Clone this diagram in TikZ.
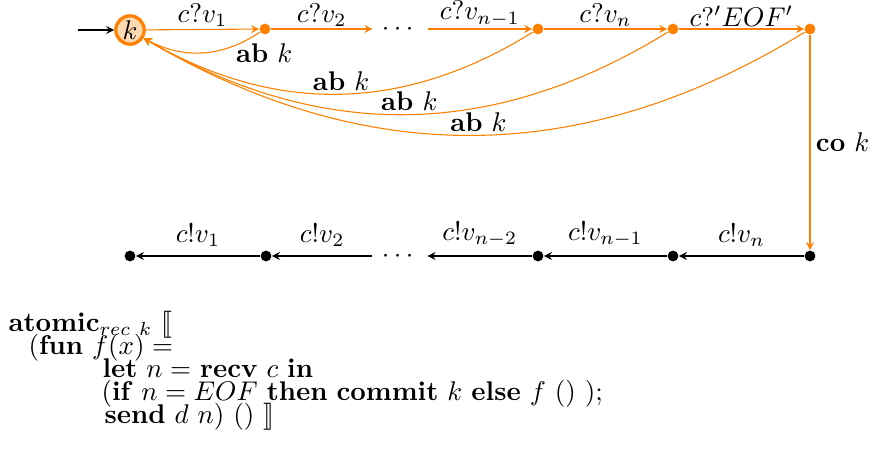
\documentclass[tikz,border=0pt]{standalone}
\usepackage{amsmath}
\usepackage{stmaryrd}
\usetikzlibrary{arrows.meta, positioning}
\definecolor{autorange}{rgb}{1,0.5,0}

\begin{document}
\begin{tikzpicture}[x=0.37pt, y=-0.37pt,
  odot/.style={circle, fill=autorange, inner sep=0pt, minimum size=4pt},
  bdot/.style={circle, fill=black, inner sep=0pt, minimum size=4pt},
  oedge/.style={draw=autorange, -{Stealth[length=3pt, width=3pt, inset=1.1pt]}},
  bedge/.style={draw=black, -{Stealth[length=3pt, width=3pt, inset=1.1pt]}},
  tlab/.style={inner sep=0.8pt},
  abk/.style={inner sep=1pt},
  codeline/.style={anchor=base west, inner sep=0pt}]
\useasboundingbox (0,0) rectangle (871,462);

\node[circle, draw=autorange, fill=autorange!30, line width=1.2pt, inner sep=0pt,
  minimum size=10.5pt] (k) at (130,30) {$k$};
\coordinate (start) at (78,30);
\draw[bedge] (start) -- (k);

\foreach \n/\x in {a1/265, a3/538, a4/673, a5/810}
  \node[odot] (\n) at (\x,29) {};
\node (at) at (400,29) {$\cdots$};

\foreach \n/\x in {b1/130, b2/266, b3/538, b4/673, b5/810}
  \node[bdot] (\n) at (\x,256) {};
\node (bt) at (400,256) {$\cdots$};

\draw[oedge] (k) -- node[above, tlab] {$c?v_1$} (a1);
\draw[oedge] (a1) -- node[above, tlab] {$c?v_2$} (at);
\draw[oedge] (at) -- node[above, tlab] {$c?v_{n-1}$} (a3);
\draw[oedge] (a3) -- node[above, tlab] {$c?v_n$} (a4);
\draw[oedge] (a4) -- node[above, tlab] {$c?'EOF'$} (a5);
\draw[oedge] (a5) -- node[right, inner sep=2pt] {$\mathbf{co}\ k$} (b5);

\draw[oedge] (a1) to[bend left=31] node[pos=0.01, below=3pt, xshift=2pt, abk] {\textbf{ab} $k$} (k);
\foreach \n in {a3, a4, a5}
  \draw[oedge] (\n) to[bend left=31] node[pos=0.495, above, abk] {\textbf{ab} $k$} (k);

\draw[bedge] (b5) -- node[above] {$c!v_n$} (b4);
\draw[bedge] (b4) -- node[above] {$c!v_{n-1}$} (b3);
\draw[bedge] (b3) -- node[above] {$c!v_{n-2}$} (bt);
\draw[bedge] (bt) -- node[above] {$c!v_2$} (b2);
\draw[bedge] (b2) -- node[above] {$c!v_1$} (b1);

\node[codeline] (l1) at (8,331) {\textbf{atomic}$_{rec\ k}\ \llbracket$};
\node[codeline] (l2) at (28,354) {(\textbf{fun} $f(x) =$};
\node[codeline] (l3) at (102,377) {\textbf{let} $n =$ \textbf{recv} $c$ \textbf{in}};
\node[codeline] (l4) at (101,400) {(\textbf{if} $n = EOF$ \textbf{then} \textbf{commit} $k$ \textbf{else} $f$ () );};
\node[codeline] (l5) at (104,423) {\textbf{send} $d$ $n$) () $\rrbracket$};
\end{tikzpicture}
\end{document}
